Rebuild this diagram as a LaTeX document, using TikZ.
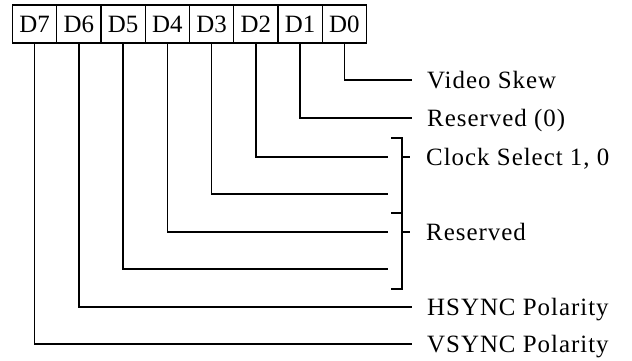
\documentclass[tikz,border=0pt]{standalone}
\usepackage{fontspec}
\setmainfont{Liberation Serif}
\newfontfamily\spacedfont[LetterSpace=4]{Liberation Serif}
\begin{document}
\begin{tikzpicture}[x=1bp,y=-1bp,
  cell/.style={draw, line width=1.3bp, minimum width=44.25bp, minimum height=38bp, inner sep=0pt, font=\fontsize{25}{25}\selectfont},
  lbl/.style={anchor=base west, inner sep=0pt, font=\spacedfont\fontsize{25}{25}\selectfont},
  wire/.style={line width=1.3bp}]
\useasboundingbox (0,0) rectangle (632,360);
% register cells
\foreach \b [count=\i from 0] in {7,6,5,4,3,2,1,0}
  \node[cell] (d\b) at ({34.6+44.25*\i},24) {D\b};
% labels
\node[lbl] (l0) at (427,88.5) {Video Skew};
\node[lbl] (l1) at (427,126.5) {Reserved (0)};
\node[lbl] (l23) at (426,165.5) {Clock Select 1, 0};
\node[lbl] (l45) at (426,240.5) {Reserved};
\node[lbl] (l6) at (427,315.5) {HSYNC Polarity};
\node[lbl] (l7) at (427,352.5) {VSYNC Polarity};
% wire end points
\coordinate (e0) at (412,80);
\coordinate (e1) at (412,118);
\coordinate (e2) at (388,157);
\coordinate (e3) at (388,194);
\coordinate (e4) at (388,232);
\coordinate (e5) at (388,269);
\coordinate (e6) at (412,307);
\coordinate (e7) at (412,344);
\foreach \b in {0,...,7}
  \draw[wire] (d\b.south) |- (e\b);
% brackets
\draw[wire] (391,138) -- (402,138) -- (402,289) -- (391,289);
\draw[wire] (391,213) -- (402,213);
\draw[wire] (402,157) -- (410,157);
\draw[wire] (402,232) -- (410,232);
\end{tikzpicture}
\end{document}
